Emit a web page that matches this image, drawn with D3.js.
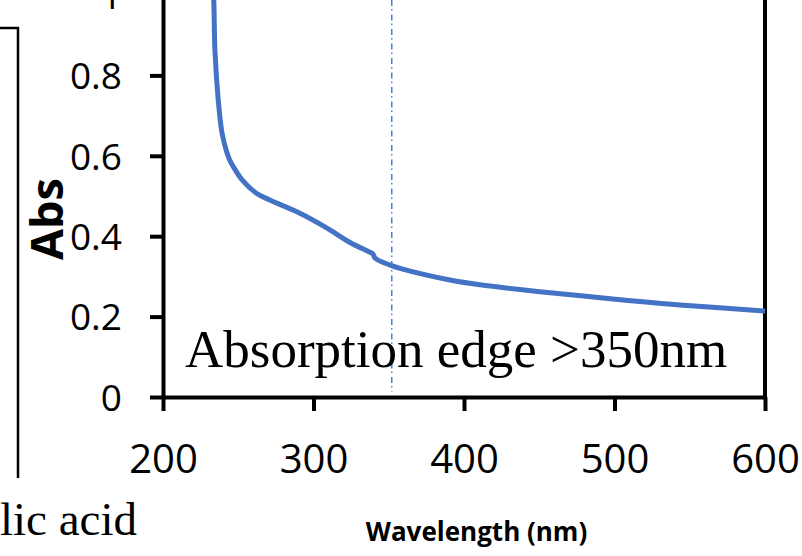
<!DOCTYPE html>
<html>
<head>
<meta charset="utf-8">
<script src="https://cdn.jsdelivr.net/npm/d3@7"></script>
<style>
  html, body { margin: 0; padding: 0; background: #fff; }
  svg { display: block; }
</style>
</head>
<body>
<svg id="chart" width="802" height="556"></svg>
<script>
// ---- data ----
const wavelength = [231.5, 232.6, 233.7, 234.5, 236.7, 239.2, 242.3, 244.5, 247.5, 253.0, 262.0, 271.0, 291.0, 309.0, 324.0, 337.5, 339.5, 341.0, 351.0, 357.5, 390.7, 410.6, 450.5, 499.0, 543.5, 600.0];
const absorbance = [1.12, 1.05, 0.99, 0.863, 0.739, 0.657, 0.610, 0.588, 0.568, 0.538, 0.507, 0.490, 0.457, 0.420, 0.385, 0.360, 0.356, 0.345, 0.328, 0.320, 0.291, 0.279, 0.262, 0.244, 0.229, 0.214];
const xTicks = [200, 300, 400, 500, 600];
const yTicks = [0, 0.2, 0.4, 0.6, 0.8, 1];
const yTickLabels = ["0", "0.2", "0.4", "0.6", "0.8", "1"];
const edgeWavelength = 352;
const annotation = "Absorption edge >350nm";
const xTitle = "Wavelength (nm)";
const yTitle = "Abs";
const leftFragment = "lic acid";

const svg = d3.select("#chart");
svg.append("rect").attr("width", 802).attr("height", 556).attr("fill", "#fff");

const x = d3.scaleLinear().domain([200, 600]).range([163, 765]);
const y = d3.scaleLinear().domain([0, 1]).range([397, -5]);

// left neighbouring panel fragment
svg.append("path")
  .attr("d", "M0,28H18V478")
  .attr("fill", "none").attr("stroke", "#000").attr("stroke-width", 2.5);
svg.append("text")
  .attr("x", 137).attr("y", 535).attr("text-anchor", "end")
  .attr("font-family", "'Liberation Serif', 'Times New Roman', serif")
  .attr("font-size", 47).attr("fill", "#000")
  .text(leftFragment);

// edge marker (dash-dot)
svg.append("line")
  .attr("x1", x(edgeWavelength)).attr("x2", x(edgeWavelength))
  .attr("y1", 0).attr("y2", 392)
  .attr("stroke", "#3a82f0").attr("stroke-width", 1.5)
  .attr("stroke-dasharray", "6,3,1.5,4");

// right frame
svg.append("line")
  .attr("x1", x(600)).attr("x2", x(600)).attr("y1", -10).attr("y2", y(0))
  .attr("stroke", "#000").attr("stroke-width", 4);

// curve
const line = d3.line()
  .x((d, i) => x(wavelength[i]))
  .y(d => y(d))
  .curve(d3.curveCatmullRom.alpha(0.5));
svg.append("path")
  .datum(absorbance)
  .attr("d", line)
  .attr("fill", "none")
  .attr("stroke", "#4472C4")
  .attr("stroke-width", 5)
  .attr("stroke-linejoin", "round");

// axes
const xAxis = svg.append("g").attr("transform", `translate(0,${y(0)})`)
  .call(d3.axisBottom(x).tickValues(xTicks).tickSize(14).tickSizeOuter(0).tickFormat(d3.format("d")));
xAxis.select(".domain").attr("stroke", "#000").attr("stroke-width", 4);
xAxis.selectAll(".tick line").attr("stroke", "#000").attr("stroke-width", 4);
xAxis.selectAll(".tick text")
  .attr("y", 76).attr("dy", 0)
  .attr("font-family", "'Open Sans', sans-serif")
  .attr("font-size", 40).attr("fill", "#000");

const yAxis = svg.append("g").attr("transform", `translate(${x(200)},0)`)
  .call(d3.axisLeft(y).tickValues(yTicks).tickSize(13).tickSizeOuter(0)
    .tickFormat((d, i) => yTickLabels[i]));
yAxis.select(".domain").attr("stroke", "#000").attr("stroke-width", 4);
yAxis.selectAll(".tick line").attr("stroke", "#000").attr("stroke-width", 4);
yAxis.selectAll(".tick text")
  .attr("x", -41).attr("dy", "0.36em")
  .attr("font-family", "'Open Sans', sans-serif")
  .attr("font-size", 37).attr("fill", "#000");

// annotation
svg.append("text")
  .attr("x", 185).attr("y", 367)
  .attr("font-family", "'Liberation Serif', 'Times New Roman', serif")
  .attr("font-size", 53).attr("fill", "#000")
  .text(annotation);

// axis titles
svg.append("text")
  .attr("transform", "translate(63,219) rotate(-90)")
  .attr("text-anchor", "middle")
  .attr("font-family", "'Open Sans', sans-serif")
  .attr("font-weight", "bold")
  .attr("font-size", 45).attr("fill", "#000")
  .text(yTitle);

svg.append("text")
  .attr("x", 476.5).attr("y", 541).attr("text-anchor", "middle")
  .attr("font-family", "'Open Sans', sans-serif")
  .attr("font-weight", "bold")
  .attr("font-size", 26).attr("fill", "#000")
  .text(xTitle);
</script>
</body>
</html>
